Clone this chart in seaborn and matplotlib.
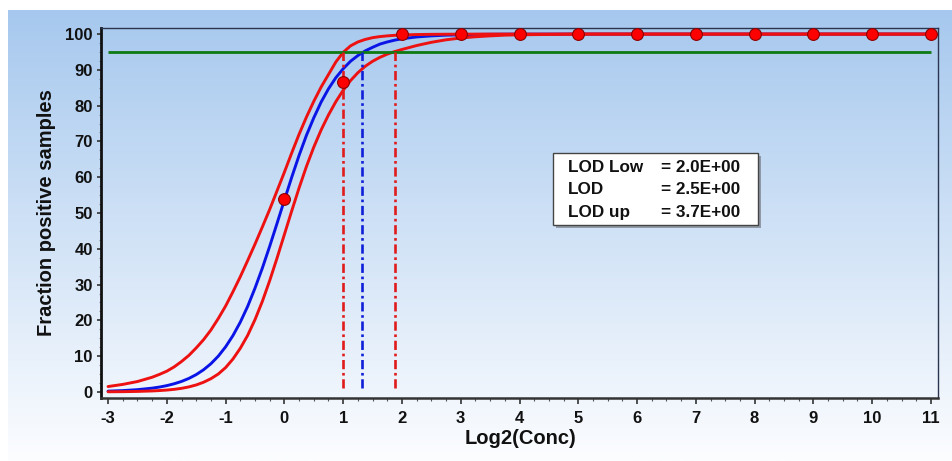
import numpy as np
import pandas as pd
import matplotlib
matplotlib.use("Agg")
import matplotlib.pyplot as plt
from matplotlib.patches import Rectangle
import seaborn as sns

# ---------------- data ----------------
x_curve = [-3.0, -2.75, -2.5, -2.25, -2.125, -2.0, -1.875, -1.75, -1.625, -1.5,
           -1.375, -1.25, -1.125, -1.0, -0.875, -0.75, -0.625, -0.5, -0.375, -0.25,
           -0.125, 0.0, 0.125, 0.25, 0.375, 0.5, 0.625, 0.75, 0.875, 1.0,
           1.125, 1.25, 1.375, 1.5, 1.625, 1.75, 1.875, 2.0, 2.25, 2.5,
           2.75, 3.0, 3.25, 3.5, 3.75, 4.0,
           5.0, 6.0, 7.0, 8.0, 9.0, 10.0, 11.0]
fit_curve = [0.22, 0.37, 0.63, 1.05, 1.36, 1.76, 2.28, 2.93, 3.77, 4.84,
             6.19, 7.88, 9.99, 12.6, 15.75, 19.5, 23.9, 29.0, 34.6, 40.7,
             47.1, 53.6, 60.0, 66.1, 71.7, 76.6, 81.0, 84.7, 87.8, 90.3,
             92.4, 94.0, 95.3, 96.3, 97.2, 97.8, 98.3, 98.7, 99.2, 99.5,
             99.7, 99.8, 99.9, 99.94, 99.97, 99.98,
             100, 100, 100, 100, 100, 100, 100]
upper_curve = [1.5, 2.1, 2.9, 4.1, 4.9, 5.8, 7.0, 8.5, 10.2, 12.3,
               14.6, 17.3, 20.5, 24.0, 28.0, 32.2, 36.7, 41.3, 46.1, 51.0,
               56.2, 61.4, 66.8, 72.0, 76.8, 81.2, 85.2, 88.7, 92.2, 94.9,
               96.7, 97.8, 98.5, 99.0, 99.3, 99.5, 99.65, 99.75, 99.87, 99.93,
               99.96, 99.98, 99.99, 100, 100, 100,
               100, 100, 100, 100, 100, 100, 100]
lower_curve = [0.04, 0.07, 0.14, 0.27, 0.38, 0.52, 0.72, 1.0, 1.4, 1.95,
               2.7, 3.7, 5.0, 6.8, 9.2, 12.2, 15.8, 20.2, 25.3, 31.1,
               37.4, 44.0, 50.6, 57.0, 63.0, 68.4, 73.2, 77.4, 81.1, 84.3,
               87.0, 89.2, 91.0, 92.4, 93.5, 94.4, 95.1, 95.7, 96.8, 97.7,
               98.4, 98.9, 99.25, 99.5, 99.7, 99.8,
               100, 100, 100, 100, 100, 100, 100]
obs_x = [0, 1, 2, 3, 4, 5, 6, 7, 8, 9, 10, 11]
obs_y = [54.0, 86.7, 100, 100, 100, 100, 100, 100, 100, 100, 100, 100]
hit_level = 95
lod_names = ["LOD Low", "LOD", "LOD up"]
lod_values = [2.0, 2.5, 3.7]
x_ticks = list(range(-3, 12))
y_ticks = list(range(0, 101, 10))

# ---------------- style ----------------
sns.set_theme(style="white")
plt.rcParams["font.family"] = ["Liberation Sans", "DejaVu Sans"]
plt.rcParams["font.weight"] = "bold"
plt.rcParams["axes.unicode_minus"] = False

W, H = 952, 461
fig = plt.figure(figsize=(W / 100, H / 100), dpi=100, facecolor="white")

# gradient background panel
bg = fig.add_axes([8 / W, 0, 1 - 8 / W, (H - 10) / H], zorder=-10)
top_c = np.array([166, 200, 238]) / 255
bot_c = np.array([252, 253, 255]) / 255
t = np.linspace(0, 1, 256)[:, None]
grad = top_c[None, :] * (1 - t) + bot_c[None, :] * t
bg.imshow(grad[:, None, :], aspect="auto", extent=[0, 1, 0, 1], origin="upper")
bg.set_axis_off()

ax = fig.add_axes([101 / W, 1 - 398 / H, (938 - 101) / W, (398 - 28) / H])
ax.set_facecolor("none")
ax.patch.set_alpha(0)

df = pd.DataFrame({"x": x_curve, "fit": fit_curve, "up": upper_curve, "low": lower_curve})
sns.lineplot(data=df, x="x", y="fit", color="#0a14e6", lw=2.1, ax=ax, zorder=3)
sns.lineplot(data=df, x="x", y="up", color="#ee1111", lw=2.1, ax=ax, zorder=4)
sns.lineplot(data=df, x="x", y="low", color="#ee1111", lw=2.1, ax=ax, zorder=4)

ax.hlines(hit_level, x_ticks[0], x_ticks[-1], color="#0e7a12", lw=2.0, zorder=5)

lod_x = np.log2(lod_values)
vcolors = ["#e01b1b", "#1020d8", "#e01b1b"]
for xv, c in zip(lod_x, vcolors):
    ax.vlines(xv, 1, hit_level, color=c, lw=1.9, zorder=5,
              linestyles=[(0, (3.5, 1.4, 1.0, 1.4))])

sns.scatterplot(x=obs_x, y=obs_y, s=72, color="#ff0000", edgecolor="#8a0000",
                linewidth=0.8, ax=ax, zorder=6, clip_on=False)

ax.set_xlim(-3.12, 11.12)
ax.set_ylim(-1.7, 101.7)
ax.set_xticks(x_ticks)
ax.set_yticks(y_ticks)
ax.set_xticks(np.arange(-3, 11.01, 0.25), minor=True)
ax.set_yticks(np.arange(0, 100.1, 2.5), minor=True)
ax.tick_params(axis="x", which="major", direction="out", length=4, width=1.2,
               color="#333333", pad=5, labelsize=12, bottom=True)
ax.tick_params(axis="x", which="minor", direction="out", length=2.5, width=0.8,
               color="#555555", bottom=True)
ax.tick_params(axis="y", which="major", direction="out", length=3, width=1.2,
               color="#333333", pad=3, labelsize=12, left=True)
ax.tick_params(axis="y", which="minor", direction="out", length=1.5, width=0.6,
               color="#777777", left=True)
for lab in ax.get_xticklabels() + ax.get_yticklabels():
    lab.set_fontweight("bold")
    lab.set_color("#111111")

for side in ["top", "right"]:
    ax.spines[side].set_color("#2a3550")
    ax.spines[side].set_linewidth(1.0)
ax.spines["left"].set_color("#111111")
ax.spines["left"].set_linewidth(2.0)
ax.spines["bottom"].set_color("#333333")
ax.spines["bottom"].set_linewidth(1.8)

ax.set_xlabel("")
ax.set_ylabel("")
fig.text(520 / W, 1 - 438 / H, "Log2(Conc)", ha="center", va="center",
         fontsize=14.5, fontweight="bold", color="#111111")
fig.text(47 / W, 1 - 213 / H, "Fraction positive samples", ha="center", va="center",
         rotation=90, fontsize=14.5, fontweight="bold", color="#111111")

# LOD box with shadow
bx0, by0, bx1, by1 = 553, 153, 758, 225
fig.patches.append(Rectangle(((bx0 + 3) / W, 1 - (by1 + 3) / H), (bx1 - bx0) / W, (by1 - by0) / H,
                             transform=fig.transFigure, facecolor="#7d828c", edgecolor="none",
                             alpha=0.75, zorder=8))
fig.patches.append(Rectangle((bx0 / W, 1 - by1 / H), (bx1 - bx0) / W, (by1 - by0) / H,
                             transform=fig.transFigure, facecolor="white", edgecolor="#444444",
                             lw=1.0, zorder=9))
row_y = [168, 190, 212]
for name, val, yy in zip(lod_names, lod_values, row_y):
    fig.text(568 / W, 1 - yy / H, name, ha="left", va="center", fontsize=12.3,
             fontweight="bold", color="#111111", zorder=10)
    fig.text(661 / W, 1 - yy / H, f"= {val:.1E}", ha="left", va="center", fontsize=12.3,
             fontweight="bold", color="#111111", zorder=10)

fig.savefig("out.png", dpi=100, facecolor="white")
